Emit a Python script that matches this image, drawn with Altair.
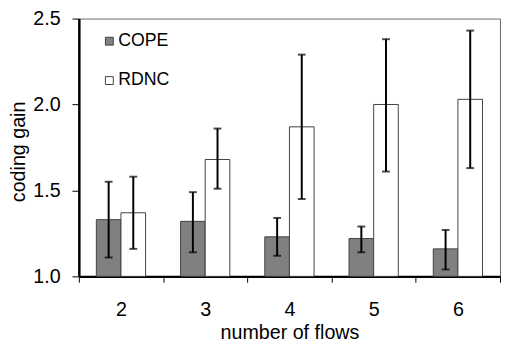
import altair as alt
import pandas as pd

flows = ["2", "3", "4", "5", "6"]
series = ["COPE", "RDNC"]
cope = [1.33, 1.32, 1.23, 1.22, 1.16]
cope_lo = [1.11, 1.14, 1.12, 1.14, 1.04]
cope_hi = [1.55, 1.49, 1.34, 1.29, 1.27]
rdnc = [1.37, 1.68, 1.87, 2.00, 2.03]
rdnc_lo = [1.16, 1.51, 1.45, 1.61, 1.63]
rdnc_hi = [1.58, 1.86, 2.29, 2.38, 2.43]

rows = []
for i, f in enumerate(flows):
    rows.append({"flows": f, "series": "COPE", "gain": cope[i], "lo": cope_lo[i], "hi": cope_hi[i]})
    rows.append({"flows": f, "series": "RDNC", "gain": rdnc[i], "lo": rdnc_lo[i], "hi": rdnc_hi[i]})
df = pd.DataFrame(rows)

FONT = "Liberation Sans"

x_enc = alt.X(
    "flows:N",
    sort=flows,
    scale=alt.Scale(paddingInner=0, paddingOuter=0),
    axis=alt.Axis(
        title="number of flows",
        labelAngle=0,
        labelFontSize=20,
        labelFont=FONT,
        labelColor="black",
        labelPadding=18,
        tickBand="extent",
        tickSize=6,
        tickColor="black",
        tickWidth=1,
        domainColor="black",
        domainWidth=2.5,
        titleFontSize=20,
        titleFont=FONT,
        titleFontWeight="normal",
        titleColor="black",
        titleY=63,
        titleBaseline="alphabetic",
    ),
)
xoff = alt.XOffset("series:N", sort=series, scale=alt.Scale(paddingOuter=0.71, paddingInner=0))

y_scale = alt.Scale(domain=[1.0, 2.5], zero=False, nice=False)

bars = alt.Chart(df).mark_bar(stroke="#404040", strokeWidth=1).encode(
    x=x_enc,
    xOffset=xoff,
    y=alt.Y(
        "gain:Q",
        scale=y_scale,
        axis=alt.Axis(
            title="coding gain",
            values=[1.0, 1.5, 2.0, 2.5],
            format=".1f",
            grid=False,
            labelFontSize=20,
            labelFont=FONT,
            labelColor="black",
            labelPadding=12,
            tickSize=7,
            tickColor="black",
            domainColor="black",
            domainWidth=2.5,
            titleFontSize=20,
            titleFont=FONT,
            titleFontWeight="normal",
            titleColor="black",
            titleX=-61,
            titleY=135,
            titleBaseline="middle",
        ),
    ),
    y2=alt.datum(1.0),
    fill=alt.Fill(
        "series:N",
        sort=series,
        scale=alt.Scale(domain=series, range=["#808080", "#ffffff"]),
        legend=alt.Legend(
            title=None,
            orient="none",
            legendX=22,
            legendY=14,
            symbolType="square",
            symbolSize=64,
            symbolStrokeColor="#404040",
            symbolStrokeWidth=1,
            symbolOpacity=1,
            labelFontSize=18,
            labelFont=FONT,
            labelColor="black",
            labelOffset=0,
            rowPadding=22,
        ),
    ),
)

rules = alt.Chart(df).mark_rule(color="black", strokeWidth=2).encode(
    x=alt.X("flows:N", sort=flows),
    xOffset=xoff,
    y=alt.Y("lo:Q", scale=y_scale),
    y2="hi:Q",
)
caps_lo = alt.Chart(df).mark_tick(color="black", thickness=2, size=8).encode(
    x=alt.X("flows:N", sort=flows),
    xOffset=xoff,
    y=alt.Y("lo:Q", scale=y_scale),
)
caps_hi = alt.Chart(df).mark_tick(color="black", thickness=2, size=8).encode(
    x=alt.X("flows:N", sort=flows),
    xOffset=xoff,
    y=alt.Y("hi:Q", scale=y_scale),
)

chart = (
    alt.layer(bars, rules, caps_lo, caps_hi)
    .properties(
        width=428,
        height=262,
        autosize=alt.AutoSizeParams(type="none"),
        padding={"left": 72, "top": 8, "right": 1, "bottom": 66},
        background="white",
    )
    .configure_view(stroke="#666666", strokeWidth=1)
)

chart.save("out.html", embed_options={"renderer": "svg", "actions": False})
